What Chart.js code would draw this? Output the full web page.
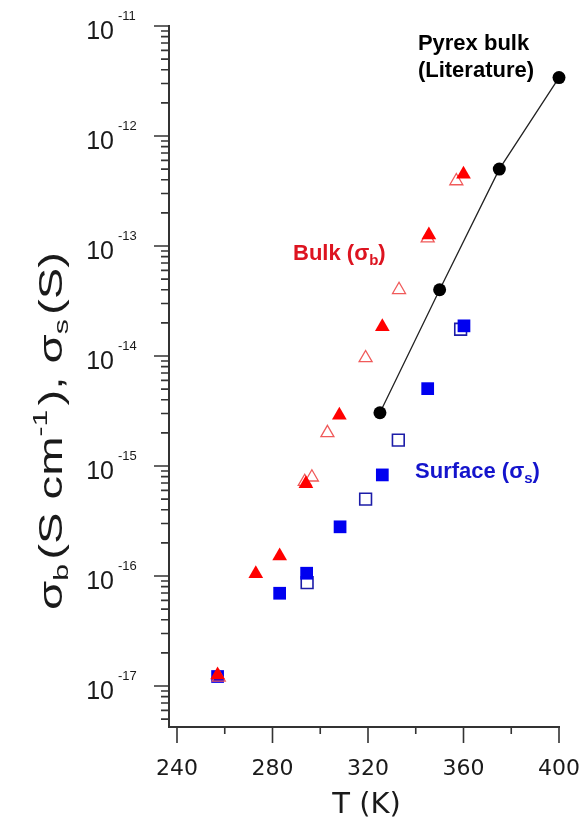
<!DOCTYPE html>
<html><head><meta charset="utf-8">
<script src="https://cdn.jsdelivr.net/npm/chart.js@4.4.1/dist/chart.umd.min.js"></script>
<style>html,body{margin:0;padding:0;background:#fff}#wrap{width:582px;height:824px;position:relative}</style>
</head><body><div id="wrap"><canvas id="c"></canvas></div>
<script>
// ---- data ----
const pyrexT = [325, 350, 375, 400];
const pyrexSigma = [3.05e-15, 4.0e-14, 5.0e-13, 3.4e-12];

const bulkFilledT = [257, 273, 283, 294, 308, 326, 345.5, 360];
const bulkFilledSigma = [1.26e-17, 1.05e-16, 1.52e-16, 6.9e-16, 2.9e-15, 1.84e-14, 1.26e-13, 4.5e-13];

const bulkOpenT = [257.5, 293.5, 296.5, 303, 319, 333, 345, 357];
const bulkOpenSigma = [1.2e-17, 7.2e-16, 7.9e-16, 2.0e-15, 9.6e-15, 4.0e-14, 1.18e-13, 3.9e-13];

const surfFilledT = [257, 283, 294.3, 308.3, 326, 345, 360.2];
const surfFilledSigma = [1.22e-17, 6.97e-17, 1.06e-16, 2.8e-16, 8.3e-16, 5.05e-15, 1.88e-14];

const surfOpenT = [294.5, 319, 332.7, 358.8];
const surfOpenSigma = [8.7e-17, 5.0e-16, 1.72e-15, 1.75e-14];

const xTickLabels = [240, 280, 320, 360, 400];
const xMinorTicks = [260, 300, 340, 380];
const yTickExponents = [-11, -12, -13, -14, -15, -16, -17];

const xTitle = 'T (K)';
const annotations = [
  {pieces: [{t: 'Pyrex bulk'}], T: 340.9, s: 6.05e-12, color: '#000'},
  {pieces: [{t: '(Literature)'}], T: 340.9, s: 3.44e-12, color: '#000'},
  {pieces: [{t: 'Bulk (σ'}, {t: 'b', sub: true}, {t: ')'}], T: 288.6, s: 7.46e-14, color: '#dd1420'},
  {pieces: [{t: 'Surface (σ'}, {t: 's', sub: true}, {t: ')'}], T: 339.7, s: 7.78e-16, color: '#1414cc'}
];

const pts = (xs, ys) => xs.map((x, i) => ({x: x, y: ys[i]}));

function richWidth(ctx, pieces, mainFont, subFont) {
  let w = 0;
  pieces.forEach(p => { ctx.font = (p.sub || p.sup) ? subFont : mainFont; w += ctx.measureText(p.t).width + (p.gap || 0); });
  return w;
}
function drawRich(ctx, pieces, x, y, mainFont, subFont, align) {
  const w = richWidth(ctx, pieces, mainFont, subFont);
  let cx = align === 'center' ? x - w / 2 : (align === 'right' ? x - w : x);
  ctx.textAlign = 'left';
  ctx.textBaseline = 'alphabetic';
  pieces.forEach(p => {
    ctx.font = (p.sub || p.sup) ? subFont : mainFont;
    const dy = p.sub ? (p.subDy || 5) : (p.sup ? -(p.supDy || 11) : 0);
    ctx.fillText(p.t, cx, y + dy);
    cx += ctx.measureText(p.t).width + (p.gap || 0);
  });
}

const axisPlugin = {
  id: 'axisDecor',
  afterDraw(chart) {
    const ctx = chart.ctx;
    const xs = chart.scales.x, ys = chart.scales.y;
    const ca = chart.chartArea;
    ctx.save();
    ctx.strokeStyle = '#333';
    ctx.lineWidth = 1.6;
    ctx.beginPath();
    xTickLabels.forEach(v => { const px = xs.getPixelForValue(v); ctx.moveTo(px, ca.bottom); ctx.lineTo(px, ca.bottom + 16); });
    xMinorTicks.forEach(v => { const px = xs.getPixelForValue(v); ctx.moveTo(px, ca.bottom); ctx.lineTo(px, ca.bottom + 7); });
    yTickExponents.forEach(e => { const py = ys.getPixelForValue(Math.pow(10, e)); ctx.moveTo(ca.left, py); ctx.lineTo(ca.left - 15, py); });
    for (let e = -18; e <= -12; e++) {
      for (let m = 2; m <= 9; m++) {
        const v = m * Math.pow(10, e);
        if (v < ys.min || v > ys.max) continue;
        const py = ys.getPixelForValue(v);
        ctx.moveTo(ca.left, py); ctx.lineTo(ca.left - 8, py);
      }
    }
    ctx.stroke();

    // x tick labels
    ctx.fillStyle = '#1a1a1a';
    ctx.font = '22px "DejaVu Sans"';
    ctx.textAlign = 'center';
    ctx.textBaseline = 'alphabetic';
    xTickLabels.forEach(v => ctx.fillText(String(v), xs.getPixelForValue(v), ca.bottom + 48));

    // y tick labels 10^e
    yTickExponents.forEach(e => {
      const py = ys.getPixelForValue(Math.pow(10, e));
      ctx.font = '25px "Liberation Sans"';
      ctx.textAlign = 'right';
      ctx.fillText('10', ca.left - 55, py + 13);
      ctx.font = '13px "Liberation Sans"';
      ctx.textAlign = 'left';
      ctx.fillText(String(e), ca.left - 51, py - 6);
    });

    // x title
    ctx.font = '29px "DejaVu Sans"';
    ctx.textAlign = 'center';
    ctx.fillText(xTitle, xs.getPixelForValue(320) - 1.5, ca.bottom + 86);

    // y title (rotated)
    const yTitlePieces = [
      {t: 'σ'}, {t: 'b', sub: true, subDy: 6, gap: 3}, {t: '(S cm'}, {t: '-1', sup: true, supDy: 15, gap: 3},
      {t: '), σ'}, {t: 's', sub: true, subDy: 6, gap: 3}, {t: '(S)'}
    ];
    const mf = '33px "Liberation Sans"', sf = '21px "Liberation Sans"';
    const natural = richWidth(ctx, yTitlePieces, mf, sf);
    ctx.save();
    ctx.translate(ca.left - 107, (ys.getPixelForValue(1e-14) + ys.getPixelForValue(1e-15)) / 2 + 20);
    ctx.rotate(-Math.PI / 2);
    ctx.scale(358 / natural, 1);
    drawRich(ctx, yTitlePieces, 0, 0, mf, sf, 'center');
    ctx.restore();

    // annotations
    annotations.forEach(a => {
      ctx.fillStyle = a.color;
      drawRich(ctx, a.pieces, xs.getPixelForValue(a.T), ys.getPixelForValue(a.s),
        'bold 22px "Liberation Sans"', 'bold 15px "Liberation Sans"', 'left');
    });
    ctx.restore();
  }
};

new Chart(document.getElementById('c').getContext('2d'), {
  type: 'scatter',
  data: {
    datasets: [
      {label: 'Pyrex bulk (Literature)', data: pts(pyrexT, pyrexSigma), showLine: true, clip: false,
       borderColor: '#222', borderWidth: 1.3, pointStyle: 'circle', pointRadius: 6.5,
       pointBackgroundColor: '#000', pointBorderColor: '#000', pointBorderWidth: 0},
      {label: 'Bulk filled', data: pts(bulkFilledT, bulkFilledSigma), pointStyle: 'triangle', pointRadius: 8.5, clip: false,
       pointBackgroundColor: '#ff0000', pointBorderColor: '#ff0000', pointBorderWidth: 0},
      {label: 'Bulk open', data: pts(bulkOpenT, bulkOpenSigma), pointStyle: 'triangle', pointRadius: 7.5, clip: false,
       pointBackgroundColor: 'rgba(255,255,255,0)', pointBorderColor: '#f05a5a', pointBorderWidth: 1.3},
      {label: 'Surface filled', data: pts(surfFilledT, surfFilledSigma), pointStyle: 'rect', pointRadius: 9, clip: false,
       pointBackgroundColor: '#0000f0', pointBorderColor: '#0000f0', pointBorderWidth: 0},
      {label: 'Surface open', data: pts(surfOpenT, surfOpenSigma), pointStyle: 'rect', pointRadius: 8.3, clip: false,
       pointBackgroundColor: 'rgba(255,255,255,0)', pointBorderColor: '#1c1ca8', pointBorderWidth: 1.6}
    ]
  },
  options: {
    responsive: true, maintainAspectRatio: false, animation: false,
    layout: {padding: {left: 169, top: 26, right: 23, bottom: 97}},
    plugins: {legend: {display: false}, tooltip: {enabled: false}},
    scales: {
      x: {type: 'linear', min: 236.65, max: 400,
          ticks: {display: false}, grid: {display: false, drawTicks: false},
          border: {display: true, color: '#333', width: 2}},
      y: {type: 'logarithmic', min: 4.24e-18, max: 1e-11,
          ticks: {display: false}, grid: {display: false, drawTicks: false},
          border: {display: true, color: '#333', width: 2}}
    }
  },
  plugins: [axisPlugin]
});
</script>
</body></html>
